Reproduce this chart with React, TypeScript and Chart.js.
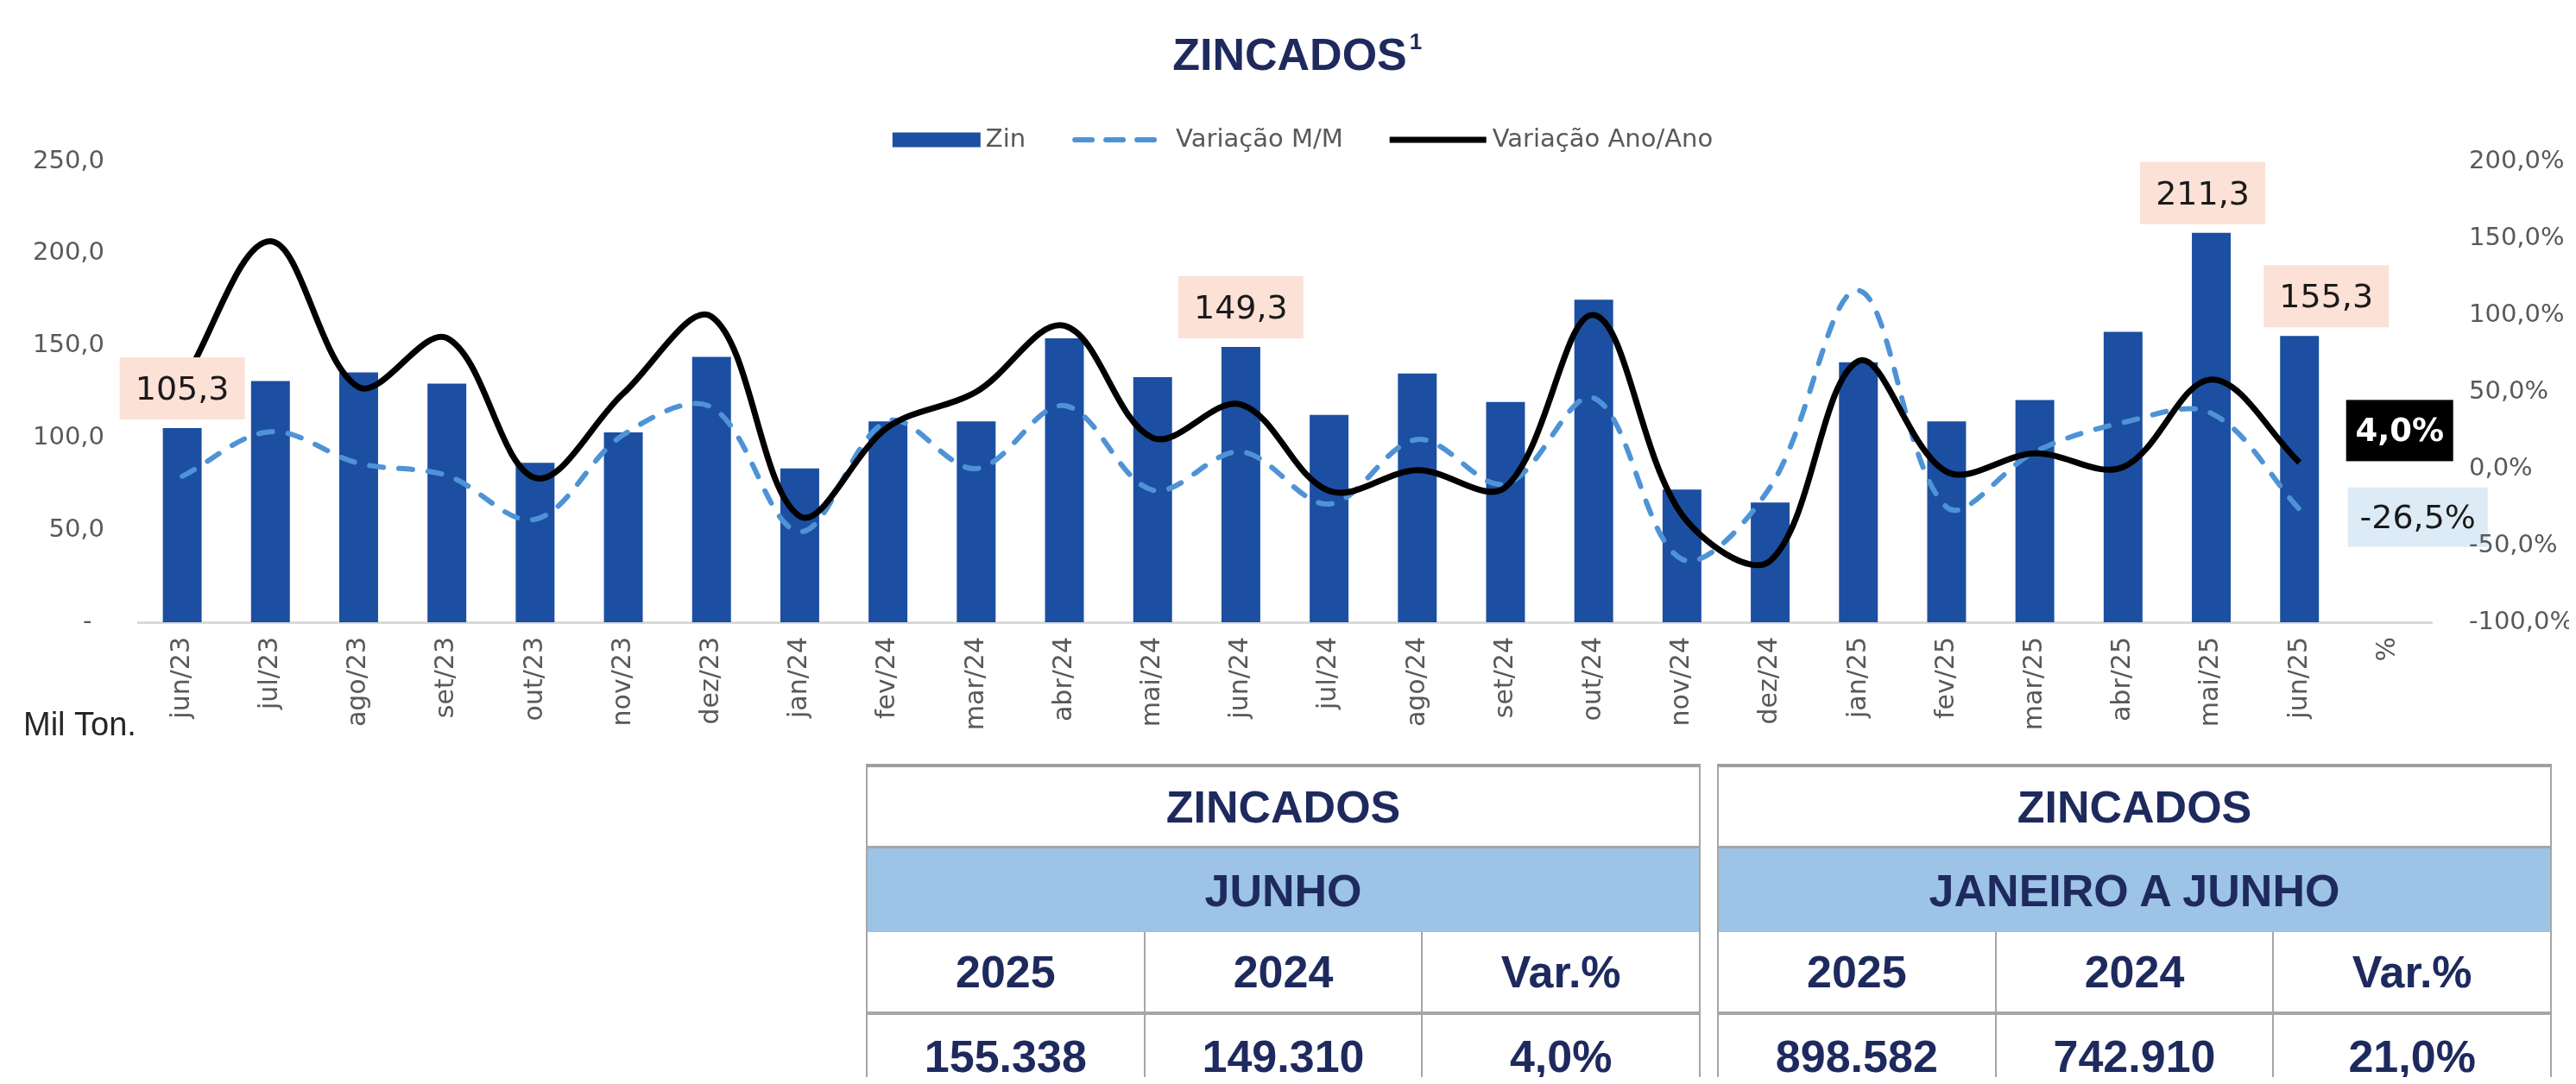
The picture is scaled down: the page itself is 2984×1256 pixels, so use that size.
import React, { useEffect, useRef } from 'react';
import { Chart, registerables } from 'chart.js';

Chart.register(...registerables);

// ---------- data ----------
const categories = [
  'jun/23', 'jul/23', 'ago/23', 'set/23', 'out/23', 'nov/23', 'dez/23',
  'jan/24', 'fev/24', 'mar/24', 'abr/24', 'mai/24', 'jun/24', 'jul/24',
  'ago/24', 'set/24', 'out/24', 'nov/24', 'dez/24', 'jan/25', 'fev/25',
  'mar/25', 'abr/25', 'mai/25', 'jun/25', '%',
];
const zinValues = [
  105.3, 130.8, 135.5, 129.5, 86.5, 103.0, 144.0, 83.5, 109.0, 109.0, 154.0, 133.0,
  149.3, 112.5, 135.0, 119.5, 175.0, 72.0, 65.0, 141.0, 109.0, 120.5, 157.5, 211.3,
  155.3, null,
];
const varMM = [
  -5, 24, 3.5, -4.5, -33, 22, 40, -41, 31, 0, 41, -14,
  11, -23, 19, -10, 46, -59, -12, 116, -25, 11, 30, 36,
  -26.5, null,
];
const varAA = [
  55, 148, 53, 85, -6, 49, 99, -31, 27, 50, 93, 20,
  41.8, -14.5, -1, -12, 100, -30, -60, 70, -2, 10, 1, 58,
  4.0, null,
];
const barLabelIndexes = [0, 12, 23, 24];
const leftTicks = [0, 50, 100, 150, 200, 250];
const rightTicks = [-100, -50, 0, 50, 100, 150, 200];
const seriesNames = ['Zin', 'Variação M/M', 'Variação Ano/Ano'];

const tableTitle = 'ZINCADOS';
const tablePeriods = ['JUNHO', 'JANEIRO A JUNHO'];
const tableHeaders = ['2025', '2024', 'Var.%'];
const junhoValues = ['155.338', '149.310', '4,0%'];
const ytdValues = ['898.582', '742.910', '21,0%'];

// ---------- styles ----------
const BAR_COLOR = '#1C4FA1';
const DASH_COLOR = '#4E93D6';
const NAVY = '#1E2A5E';
const TICK_COLOR = '#595959';
const TICK_FAMILY = "'DejaVu Sans', sans-serif";
const SANS = "'Liberation Sans', Arial, sans-serif";

const fmt1 = (v: number) => v.toFixed(1).replace('.', ',');

function drawLabelBox(
  ctx: CanvasRenderingContext2D,
  cx: number, cy: number, w: number, h: number,
  bg: string, text: string, color: string, font: string,
) {
  ctx.save();
  ctx.fillStyle = bg;
  ctx.fillRect(cx - w / 2, cy - h / 2, w, h);
  ctx.fillStyle = color;
  ctx.font = font;
  ctx.textAlign = 'center';
  ctx.textBaseline = 'middle';
  ctx.fillText(text, cx, cy + 3);
  ctx.restore();
}

const overlayPlugin = {
  id: 'overlay',
  afterDatasetsDraw(chart: any) {
    const ctx: CanvasRenderingContext2D = chart.ctx;
    // bar value labels
    const barMeta = chart.getDatasetMeta(0);
    const dx = [0, 0, -10, 31];
    barLabelIndexes.forEach((idx, k) => {
      const el = barMeta.data[idx];
      const v = zinValues[idx] as number;
      drawLabelBox(ctx, el.x + dx[k], el.y - 46, 145, 72, '#FBE1D6', fmt1(v), '#1a1a1a', `38px ${TICK_FAMILY}`);
    });
    // last-point labels of the lines
    const lastIdx = (arr: (number | null)[]) => {
      for (let i = arr.length - 1; i >= 0; i--) if (arr[i] !== null) return i;
      return 0;
    };
    const aaI = lastIdx(varAA);
    const aaEl = chart.getDatasetMeta(2).data[aaI];
    drawLabelBox(ctx, aaEl.x + 116, aaEl.y - 37, 124, 71, '#000000', fmt1(varAA[aaI] as number) + '%', '#ffffff', `bold 37px ${TICK_FAMILY}`);
    const mmI = lastIdx(varMM);
    const mmEl = chart.getDatasetMeta(1).data[mmI];
    drawLabelBox(ctx, mmEl.x + 137, mmEl.y + 9, 162, 69, '#DDEBF7', fmt1(varMM[mmI] as number) + '%', '#1a1a1a', `38px ${TICK_FAMILY}`);
  },
  afterDraw(chart: any) {
    const ctx: CanvasRenderingContext2D = chart.ctx;
    const W = chart.width;
    ctx.save();
    // title
    ctx.font = `bold 52px ${SANS}`;
    ctx.fillStyle = NAVY;
    ctx.textBaseline = 'alphabetic';
    ctx.textAlign = 'center';
    const titleX = W / 2 + 2;
    const tw = ctx.measureText(tableTitle).width;
    ctx.fillText(tableTitle, titleX, 73);
    ctx.font = `bold 26px ${SANS}`;
    ctx.textAlign = 'left';
    ctx.fillText('1', titleX + tw / 2 + 3, 49);

    // legend
    ctx.font = `29px ${TICK_FAMILY}`;
    const sampleW = [102, 98, 112];
    const gapAfter = [6, 22, 7];
    const between = 54;
    const textW = seriesNames.map((t) => ctx.measureText(t).width);
    let total = 0;
    for (let i = 0; i < 3; i++) total += sampleW[i] + gapAfter[i] + textW[i] + (i < 2 ? between : 0);
    let x = W / 2 + 17 - total / 2;
    const ly = 154;
    for (let i = 0; i < 3; i++) {
      if (i === 0) {
        ctx.fillStyle = BAR_COLOR;
        ctx.fillRect(x, ly - 8.5, sampleW[i], 17);
      } else {
        ctx.beginPath();
        ctx.lineWidth = i === 1 ? 6 : 7;
        ctx.strokeStyle = i === 1 ? DASH_COLOR : '#000';
        ctx.lineCap = i === 1 ? 'round' : 'butt';
        ctx.setLineDash(i === 1 ? [20, 16] : []);
        ctx.moveTo(x + (i === 1 ? 3 : 0), ly);
        ctx.lineTo(x + sampleW[i], ly);
        ctx.stroke();
        ctx.setLineDash([]);
      }
      x += sampleW[i] + gapAfter[i];
      ctx.fillStyle = TICK_COLOR;
      ctx.textAlign = 'left';
      ctx.textBaseline = 'middle';
      ctx.fillText(seriesNames[i], x, ly);
      x += textW[i] + between;
    }

    // unit label
    ctx.font = `38px ${SANS}`;
    ctx.fillStyle = '#262626';
    ctx.textAlign = 'left';
    ctx.textBaseline = 'middle';
    ctx.fillText('Mil Ton.', 19, 834);
    ctx.restore();
  },
};

function SummaryTable({ left, period, values }: { left: number; period: string; values: string[] }) {
  const border = '#A6A6A6';
  const cell: React.CSSProperties = {
    display: 'flex', alignItems: 'center', justifyContent: 'center', boxSizing: 'border-box',
  };
  return (
    <div
      style={{
        position: 'absolute', left, top: 877, width: 967, boxSizing: 'border-box',
        borderLeft: `2px solid ${border}`, borderRight: `2px solid ${border}`, borderTop: `4px solid #9E9E9E`,
        fontFamily: SANS, fontWeight: 700, fontSize: 52, color: NAVY, background: '#fff',
      }}
    >
      <div style={{ ...cell, height: 94, borderBottom: `3px solid ${border}` }}>{tableTitle}</div>
      <div style={{ ...cell, height: 97, background: '#9DC3E6' }}>{period}</div>
      <div style={{ display: 'flex', height: 96, borderBottom: `4px solid ${border}`, boxSizing: 'border-box' }}>
        {tableHeaders.map((h, i) => (
          <div key={h} style={{ ...cell, flex: 1, borderLeft: i ? `2px solid ${border}` : 'none' }}>{h}</div>
        ))}
      </div>
      <div style={{ display: 'flex', height: 96 }}>
        {values.map((v, i) => (
          <div key={v} style={{ ...cell, flex: 1, borderLeft: i ? `2px solid ${border}` : 'none' }}>{v}</div>
        ))}
      </div>
    </div>
  );
}

export default function App() {
  const ref = useRef<HTMLCanvasElement>(null);

  useEffect(() => {
    if (!ref.current) return;
    const chart = new Chart(ref.current, {
      type: 'bar',
      data: {
        labels: categories,
        datasets: [
          {
            type: 'bar',
            label: seriesNames[0],
            data: zinValues as any,
            backgroundColor: BAR_COLOR,
            yAxisID: 'y',
            order: 3,
            barPercentage: 0.44,
            categoryPercentage: 1,
          },
          {
            type: 'line',
            label: seriesNames[1],
            data: varMM as any,
            borderColor: DASH_COLOR,
            borderWidth: 6,
            borderDash: [16, 18],
            borderCapStyle: 'round',
            pointRadius: 0,
            tension: 0.35,
            fill: false,
            yAxisID: 'y1',
            order: 2,
          },
          {
            type: 'line',
            label: seriesNames[2],
            data: varAA as any,
            borderColor: '#000000',
            borderWidth: 7,
            pointRadius: 0,
            tension: 0.35,
            fill: false,
            yAxisID: 'y1',
            order: 1,
          },
        ] as any,
      },
      options: {
        responsive: false,
        maintainAspectRatio: false,
        animation: false,
        layout: { padding: { top: 179, left: 0, right: 0, bottom: 0 } },
        plugins: {
          legend: { display: false },
          title: { display: false },
          tooltip: { enabled: false },
        },
        scales: {
          x: {
            grid: { display: false, drawTicks: false },
            border: { display: true, color: '#D9D9D9', width: 3 },
            ticks: {
              autoSkip: false,
              maxRotation: 90,
              minRotation: 90,
              padding: 17,
              color: TICK_COLOR,
              font: { family: TICK_FAMILY, size: 30 },
            },
            afterFit: (s: any) => { s.height = 157; },
          },
          y: {
            position: 'left',
            min: leftTicks[0],
            max: leftTicks[leftTicks.length - 1],
            grid: { display: false, drawTicks: false },
            border: { display: false },
            ticks: {
              stepSize: leftTicks[1] - leftTicks[0],
              padding: 39,
              color: TICK_COLOR,
              font: { family: TICK_FAMILY, size: 29 },
              callback: (v: any) => (Number(v) === 0 ? '-\u2002' : fmt1(Number(v))),
            },
            afterFit: (s: any) => { s.width = 152; },
          },
          y1: {
            position: 'right',
            min: rightTicks[0],
            max: rightTicks[rightTicks.length - 1],
            grid: { display: false, drawTicks: false },
            border: { display: false },
            ticks: {
              z: 1,
              stepSize: rightTicks[1] - rightTicks[0],
              padding: 43,
              color: TICK_COLOR,
              font: { family: TICK_FAMILY, size: 29 },
              callback: (v: any) => fmt1(Number(v)) + '%',
            },
            afterFit: (s: any) => { s.width = 159; },
          },
        },
      } as any,
      plugins: [overlayPlugin],
    });
    return () => chart.destroy();
  }, []);

  return (
    <div style={{ position: 'relative', width: 2968, height: 1240, overflow: 'hidden', background: '#ffffff' }}>
      <canvas ref={ref} width={2968} height={870} style={{ position: 'absolute', left: 0, top: 0, display: 'block' }} />
      <SummaryTable left={995} period={tablePeriods[0]} values={junhoValues} />
      <SummaryTable left={1981} period={tablePeriods[1]} values={ytdValues} />
    </div>
  );
}
